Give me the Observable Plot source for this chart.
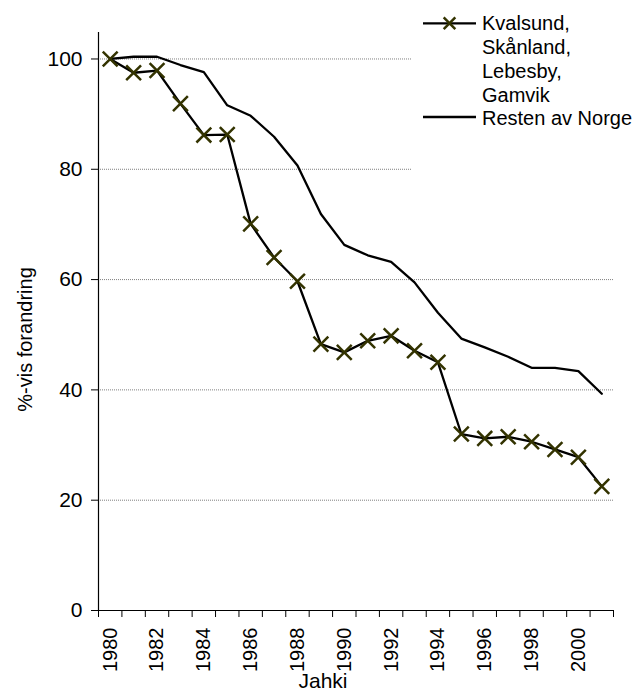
<!DOCTYPE html>
<html><head><meta charset="utf-8">
<script src="https://cdn.jsdelivr.net/npm/d3@7"></script>
<script src="https://cdn.jsdelivr.net/npm/@observablehq/plot@0.6"></script>
<style>
html,body{margin:0;padding:0;background:#fff;}
#wrap{position:relative;width:643px;height:690px;overflow:hidden;font-family:"Liberation Sans",Arial,sans-serif;}
#legend{position:absolute;left:411px;top:0;width:232px;height:220px;background:#fff;}
</style></head><body>
<div id="wrap"><div id="chart"></div><div id="legend"></div></div>
<script>
const years = [1980,1981,1982,1983,1984,1985,1986,1987,1988,1989,1990,1991,1992,1993,1994,1995,1996,1997,1998,1999,2000,2001];
const kvalsund = [100,97.5,97.9,91.9,86.2,86.3,70.1,64.0,59.7,48.3,46.8,48.9,49.8,47.1,45.0,32.0,31.2,31.5,30.6,29.2,27.8,22.5];
const norge = [100,100.4,100.4,98.9,97.6,91.6,89.7,85.9,80.7,71.9,66.3,64.4,63.2,59.5,54.0,49.3,47.7,46.0,44.0,44.0,43.4,39.3];
const yTicks = [0,20,40,60,80,100];
const xTickLabels = [1980,1982,1984,1986,1988,1990,1992,1994,1996,1998,2000];
const seriesNames = ["Kvalsund,\nSkånland,\nLebesby,\nGamvik", "Resten av Norge"];
const yTitle = "%-vis forandring";
const xTitle = "Jahki";

const kvalData = years.map((y,i)=>({year:y, value:kvalsund[i]}));
const norgeData = years.map((y,i)=>({year:y, value:norge[i]}));
const xDomain = [years[0]-0.5, years[years.length-1]+0.5];
const boundaries = years.map(y=>y-0.5).concat([years[years.length-1]+0.5]);
const font = '"Liberation Sans", Arial, sans-serif';
const markerColor = "#333300";

const chart = Plot.plot({
  width: 643, height: 690,
  marginLeft: 98, marginRight: 30, marginTop: 32, marginBottom: 80,
  style: {fontFamily: font, fontSize: "21px", color: "#000", background: "#fff"},
  x: {domain: xDomain},
  y: {domain: [0, 104.8]},
  marks: [
    Plot.gridY(yTicks.filter(d=>d>0), {stroke:"#7f7f7f", strokeOpacity:1, strokeDasharray:"1,1", strokeWidth:1}),
    Plot.ruleX([xDomain[0]], {stroke:"#000", strokeWidth:1.2}),
    Plot.ruleY([0], {stroke:"#000", strokeWidth:1.2}),
    Plot.axisY({ticks: yTicks, tickSize: 7, tickPadding: 9, label: null, fontSize: 21, stroke:"#000"}),
    Plot.axisX({ticks: boundaries, tickSize: 7, tickFormat: () => "", label: null, stroke:"#000"}),
    Plot.axisX({ticks: xTickLabels, tickSize: 0, tickRotate: -90, tickPadding: 17, tickFormat: d => String(d), label: null, fontSize: 20}),
    Plot.line(norgeData, {x:"year", y:"value", stroke:"#000", strokeWidth:2.3}),
    Plot.line(kvalData, {x:"year", y:"value", stroke:"#000", strokeWidth:2.3}),
    Plot.dot(kvalData, {x:"year", y:"value", symbol:"times", r:6.8, stroke:markerColor, strokeWidth:2.5}),
    Plot.text([yTitle], {frameAnchor:"left", dx:-73, dy:18, rotate:-90, fontSize:20, fill:"#000", textAnchor:"middle"}),
    Plot.text([xTitle], {frameAnchor:"bottom", dx:-33, dy:77, fontSize:21, fill:"#000", textAnchor:"middle"})
  ]
});
document.getElementById("chart").appendChild(chart);

// legend
const lg = d3.select("#legend").append("svg").attr("width",232).attr("height",220)
  .style("font-family", font).style("font-size","20px");
const e1 = lg.append("g");
e1.append("line").attr("x1",12).attr("x2",65).attr("y1",23.3).attr("y2",23.3).attr("stroke","#000").attr("stroke-width",2.3);
e1.append("path").attr("d", d3.symbol(d3.symbolTimes, 90)()).attr("transform","translate(38.5,23.3)")
  .attr("stroke",markerColor).attr("stroke-width",2.5).attr("fill","none");
seriesNames[0].split("\n").forEach((t,i)=>{
  e1.append("text").attr("x",71).attr("y",29.5+i*24).text(t);
});
const e2 = lg.append("g");
e2.append("line").attr("x1",12).attr("x2",65).attr("y1",117).attr("y2",117).attr("stroke","#000").attr("stroke-width",2.3);
e2.append("text").attr("x",71).attr("y",124.5).text(seriesNames[1]);
</script>
</body></html>
